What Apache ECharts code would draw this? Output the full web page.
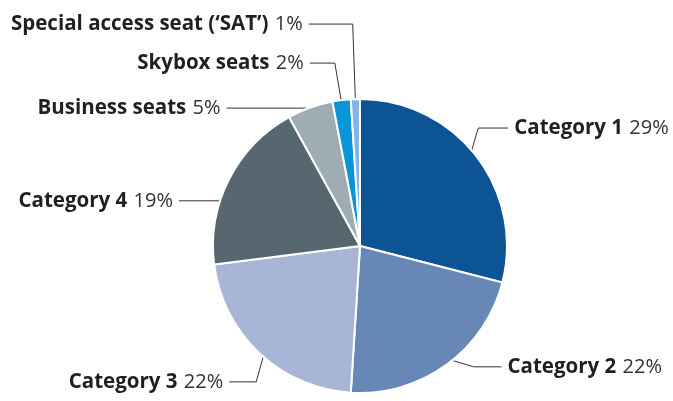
<!DOCTYPE html>
<html lang="en">
<head>
    <meta charset="UTF-8">
    <title>Seat categories</title>
    <style>
        html, body { margin: 0; padding: 0; background: #fff; }
    </style>
</head>
<body>
<div id="main" style="width: 673px;height:401px;"></div>
<script src="https://cdn.jsdelivr.net/npm/echarts@6/dist/echarts.min.js"></script>
<script type="text/javascript">
    var names = ['Category 1', 'Category 2', 'Category 3', 'Category 4',
        'Business seats', 'Skybox seats', 'Special access seat (‘SAT’)'];
    var shares = [29, 22, 22, 19, 5, 2, 1];
    var colors = ['#0d5495', '#6787b7', '#a7b6d6', '#566770', '#a0acb4', '#0a95d6', '#7fb6e3'];

    // leader lines: elbow offset from the line start (x, y), then the horizontal run
    var elbows = [[10, -34, 30], [33, 10, 28], [-10, 36, 27], [-8, 17, 51],
        [-7, -9, 80], [-8, -47, 25], [-3, -85, 44]];

    var myChart = echarts.init(document.getElementById('main'));

    var pieData = names.map(function (n, i) {
        return { name: n, value: shares[i], itemStyle: { color: colors[i] } };
    });
    // the same data again, drawn transparent, only to carry labels whose lines start inside the slices
    var labelData = names.map(function (n, i) {
        return { name: n, value: shares[i] };
    });

    var option = {
        animation: false,
        textStyle: { fontFamily: 'Open Sans' },
        series: [{
            type: 'pie',
            center: [360, 246],
            radius: 147,
            startAngle: 90,
            clockwise: true,
            silent: true,
            avoidLabelOverlap: false,
            label: { show: false },
            labelLine: { show: false },
            itemStyle: { borderColor: '#fff', borderWidth: 2 },
            data: pieData
        }, {
            type: 'pie',
            center: [360, 246],
            radius: 137,
            startAngle: 90,
            clockwise: true,
            silent: true,
            avoidLabelOverlap: false,
            itemStyle: { color: 'rgba(0,0,0,0)', borderWidth: 0 },
            label: {
                show: true,
                position: 'outside',
                fontSize: 20,
                formatter: function (p) {
                    return '{b|' + p.name + ' }{n|' + p.value + '%}';
                },
                rich: {
                    b: { fontFamily: 'Open Sans', fontWeight: 'bold', fontSize: 20.5, color: '#231f20' },
                    n: { fontFamily: 'Open Sans', fontSize: 20, color: '#333', padding: [0, 0, 0, 1] }
                }
            },
            labelLine: {
                show: true,
                length: 10,
                length2: 10,
                lineStyle: { color: '#333', width: 1 }
            },
            labelLayout: function (p) {
                var s = p.labelLinePoints[0];
                var e = elbows[p.dataIndex];
                var dir = p.align === 'right' ? -1 : 1;
                var ex = s[0] + e[0], ey = s[1] + e[1];
                var hx = ex + dir * e[2];
                return {
                    x: hx + dir * 6,
                    y: ey,
                    align: p.align,
                    verticalAlign: 'middle',
                    labelLinePoints: [s, [ex, ey], [hx, ey]]
                };
            },
            data: labelData
        }]
    };

    myChart.setOption(option);
</script>
</body>
</html>
